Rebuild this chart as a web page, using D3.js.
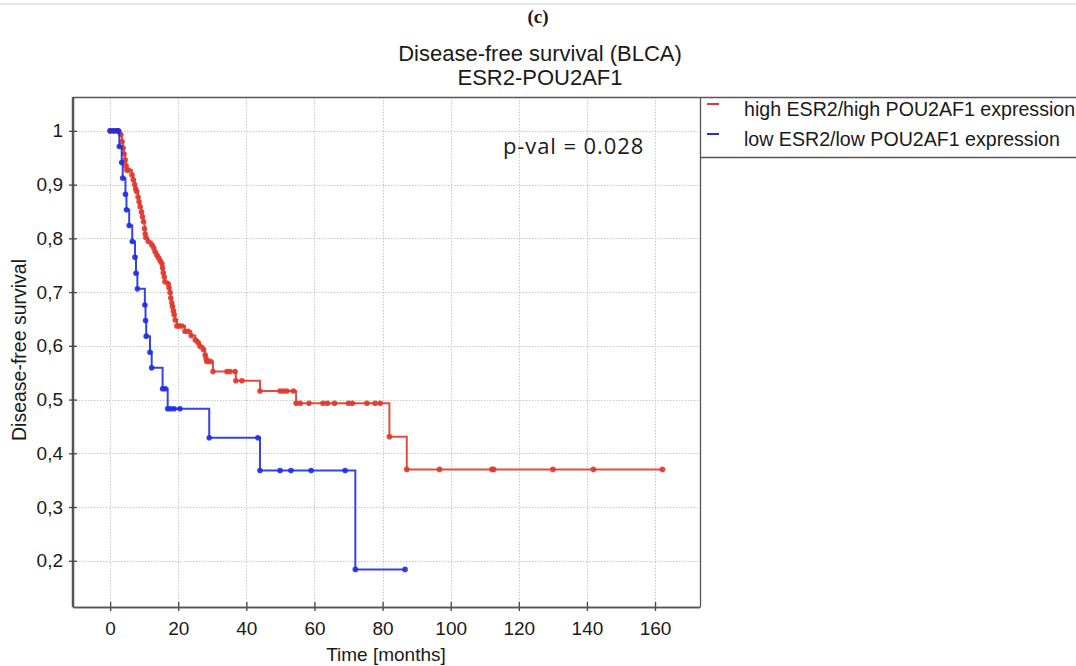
<!DOCTYPE html>
<html>
<head>
<meta charset="utf-8">
<script src="https://cdn.jsdelivr.net/npm/d3@7"></script>
<style>
  html, body { margin: 0; padding: 0; background: #fff; }
  svg { display: block; }
  text { font-family: "Liberation Sans", Arial, sans-serif; fill: #1a1a1a; }
</style>
</head>
<body>
<svg id="chart" width="1076" height="666"></svg>
<script>
// Kaplan–Meier curves: each point is an observation (event or censoring),
// survival is the estimate right after that observation.
const highTime = [0, 1.2, 2.3, 3.1, 3.5, 3.8, 4.1, 4.4, 4.7, 4.9, 5.4, 6.4, 6.8, 7.2, 7.5, 7.8, 8.2, 8.5, 8.8, 9.2, 9.5, 9.8, 10.1, 10.3, 10.5, 11.2, 12.2, 12.8, 13.2, 13.7, 14.2, 14.7, 15.2, 15.4, 15.6, 15.9, 16.1, 17.1, 17.3, 17.6, 17.8, 18.1, 18.3, 18.6, 18.8, 19.1, 19.6, 20.3, 21.1, 22.0, 22.9, 23.8, 25.0, 25.8, 26.4, 27.4, 27.9, 28.2, 28.4, 29.4, 30.2, 34.3, 35.2, 36.7, 36.9, 38.7, 44.0, 49.9, 50.9, 51.9, 53.8, 54.6, 55.8, 58.4, 62.5, 63.8, 65.9, 70.0, 71.1, 75.4, 77.8, 79.3, 82.0, 87.1, 96.7, 112.1, 112.6, 130.0, 141.9, 162.2];
const highSurv = [1, 1, 1, 0.993, 0.980, 0.968, 0.957, 0.946, 0.935, 0.927, 0.927, 0.918, 0.909, 0.900, 0.892, 0.887, 0.877, 0.868, 0.859, 0.849, 0.840, 0.831, 0.818, 0.808, 0.801, 0.794, 0.788, 0.782, 0.775, 0.769, 0.764, 0.758, 0.753, 0.745, 0.736, 0.728, 0.719, 0.715, 0.708, 0.699, 0.689, 0.680, 0.673, 0.665, 0.658, 0.648, 0.637, 0.637, 0.637, 0.627, 0.627, 0.619, 0.611, 0.606, 0.599, 0.593, 0.583, 0.576, 0.571, 0.571, 0.552, 0.552, 0.552, 0.552, 0.535, 0.535, 0.516, 0.516, 0.516, 0.516, 0.516, 0.493, 0.493, 0.493, 0.493, 0.493, 0.493, 0.493, 0.493, 0.493, 0.493, 0.493, 0.431, 0.370, 0.370, 0.370, 0.370, 0.370, 0.370, 0.370];

const lowTime = [0, 1.0, 2.0, 2.4, 2.7, 3.4, 3.7, 4.5, 4.8, 5.6, 6.5, 7.3, 7.6, 8.0, 10.2, 10.4, 10.6, 11.7, 12.2, 15.4, 16.2, 16.9, 17.8, 18.8, 20.5, 29.1, 43.4, 44.0, 49.9, 53.1, 59.0, 69.0, 72.0, 86.6];
const lowSurv = [1, 1, 1, 1, 0.971, 0.941, 0.912, 0.882, 0.853, 0.824, 0.794, 0.765, 0.735, 0.706, 0.676, 0.647, 0.618, 0.588, 0.559, 0.520, 0.520, 0.483, 0.483, 0.483, 0.483, 0.429, 0.429, 0.368, 0.368, 0.368, 0.368, 0.368, 0.184, 0.184];

const xTicks = [0, 20, 40, 60, 80, 100, 120, 140, 160];
const yTicks = [0.2, 0.3, 0.4, 0.5, 0.6, 0.7, 0.8, 0.9, 1];
const seriesNames = ["high ESR2/high POU2AF1 expression", "low ESR2/low POU2AF1 expression"];
const seriesColors = ["#e0392b", "#1f2fe0"];
const pValueText = "p-val = 0.028";

const svg = d3.select("#chart");
const plot = { left: 73, right: 700, top: 97, bottom: 607 };

const x = d3.scaleLinear().domain([-10.9, 173.2]).range([plot.left, plot.right]);
const y = d3.scaleLinear().domain([0.114, 1.063]).range([plot.bottom, plot.top]);

// thin page rule at the very top
svg.append("line").attr("x1", 0).attr("x2", 1076).attr("y1", 4).attr("y2", 4)
  .attr("stroke", "#dedede").attr("stroke-width", 1.5);

// titles
svg.append("text").attr("x", 538).attr("y", 23).attr("text-anchor", "middle")
  .style("font-family", "'Liberation Serif', 'DejaVu Serif', serif").style("font-weight", "bold")
  .style("font-size", "19px").text("(c)");
svg.append("text").attr("x", 540).attr("y", 61).attr("text-anchor", "middle")
  .style("font-size", "22px").text("Disease-free survival (BLCA)");
svg.append("text").attr("x", 540).attr("y", 85).attr("text-anchor", "middle")
  .style("font-size", "22px").text("ESR2-POU2AF1");

// grid
const grid = svg.append("g").attr("stroke", "#c8c8c8").attr("stroke-width", 1).attr("stroke-dasharray", "1.5,1.5");
grid.selectAll(".gx").data(xTicks).join("line")
  .attr("x1", d => Math.round(x(d)) + 0.5).attr("x2", d => Math.round(x(d)) + 0.5)
  .attr("y1", plot.top).attr("y2", plot.bottom);
grid.selectAll(".gy").data(yTicks).join("line")
  .attr("y1", d => Math.round(y(d)) + 0.5).attr("y2", d => Math.round(y(d)) + 0.5)
  .attr("x1", plot.left).attr("x2", plot.right);

// frame (top and right sides)
svg.append("path")
  .attr("d", `M${plot.left},${plot.top + 0.5}H1076M${plot.right + 0.5},${plot.top}V${plot.bottom}`)
  .attr("stroke", "#555").attr("stroke-width", 1.3).attr("fill", "none");

// legend box
svg.append("line").attr("x1", plot.right).attr("x2", 1076).attr("y1", 157.5).attr("y2", 157.5)
  .attr("stroke", "#555").attr("stroke-width", 1.3);
const legend = svg.append("g");
seriesNames.forEach((name, i) => {
  const yy = 116 + i * 30;
  legend.append("line").attr("x1", 707).attr("x2", 719).attr("y1", yy - 12).attr("y2", yy - 12)
    .attr("stroke", seriesColors[i]).attr("stroke-width", 2);
  legend.append("text").attr("x", 744).attr("y", yy).style("font-size", "19.6px").text(name);
});

// axes
const fmtY = d => d === 1 ? "1" : d.toFixed(1).replace(".", ",");
const xAxis = svg.append("g").attr("transform", `translate(0,${plot.bottom})`)
  .call(d3.axisBottom(x).tickValues(xTicks).tickSizeInner(4).tickSizeOuter(0).tickPadding(11));
const xInner = svg.append("g").attr("transform", `translate(0,${plot.bottom})`)
  .call(d3.axisBottom(x).tickValues(xTicks).tickSizeInner(-5).tickSizeOuter(0).tickFormat(""));
const yAxis = svg.append("g").attr("transform", `translate(${plot.left},0)`)
  .call(d3.axisLeft(y).tickValues(yTicks).tickFormat(fmtY).tickSizeInner(4).tickSizeOuter(0).tickPadding(6));
const yInner = svg.append("g").attr("transform", `translate(${plot.left},0)`)
  .call(d3.axisLeft(y).tickValues(yTicks).tickSizeInner(-4).tickSizeOuter(0).tickFormat(""));
[xAxis, xInner, yAxis, yInner].forEach(g => {
  g.selectAll("path").attr("stroke", "#555").attr("stroke-width", 1.5);
  g.selectAll("line").attr("stroke", "#444").attr("stroke-width", 1.3);
  g.selectAll("text").style("font-size", "19px").style("font-family", "'Liberation Sans', Arial, sans-serif").attr("fill", "#1a1a1a");
});
// extend domain lines across the whole frame
xAxis.select(".domain").attr("d", `M${plot.left},0.5H${plot.right}`);
yAxis.select(".domain").attr("d", `M-0.5,${plot.top}V${plot.bottom}`);

svg.append("text").attr("x", 386).attr("y", 661).attr("text-anchor", "middle")
  .style("font-size", "19px").text("Time [months]");
svg.append("text").attr("transform", "translate(26,350) rotate(-90)").attr("text-anchor", "middle")
  .style("font-size", "19.5px").text("Disease-free survival");

// survival curves
const series = [
  { t: highTime, s: highSurv, color: seriesColors[0] },
  { t: lowTime, s: lowSurv, color: seriesColors[1] }
];
const line = d3.line().x(d => x(d[0])).y(d => y(d[1])).curve(d3.curveStepAfter);
series.forEach(sr => {
  const pts = sr.t.map((t, i) => [t, sr.s[i]]);
  svg.append("path").datum(pts).attr("d", line).attr("fill", "none")
    .attr("stroke", sr.color).attr("stroke-width", 2).attr("stroke-opacity", 0.9);
  svg.append("g").selectAll("circle").data(pts).join("circle")
    .attr("cx", d => x(d[0])).attr("cy", d => y(d[1])).attr("r", 2.8)
    .attr("fill", sr.color).attr("fill-opacity", 0.9);
});

// p-value annotation
svg.append("text").attr("x", 503).attr("y", 154)
  .style("font-family", "'Open Sans', 'Noto Sans', sans-serif").style("font-size", "22px")
  .style("letter-spacing", "0.9px")
  .attr("fill", "#000").text(pValueText);
</script>
</body>
</html>
